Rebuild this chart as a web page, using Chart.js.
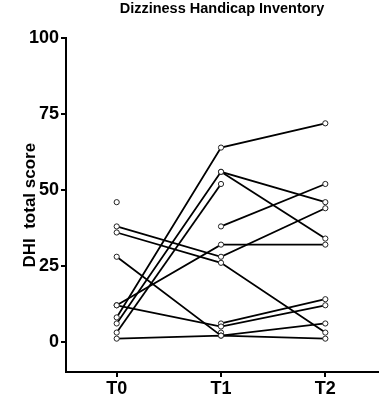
<!DOCTYPE html>
<html>
<head>
<meta charset="utf-8">
<script src="https://cdn.jsdelivr.net/npm/chart.js@4.4.1/dist/chart.umd.min.js"></script>
<style>
  html, body { margin: 0; padding: 0; background: #fff; }
  #wrap { width: 383px; height: 401px; }
</style>
</head>
<body>
<div id="wrap"><canvas id="myChart" width="383" height="401"></canvas></div>
<script>
// one entry per subject, same order in every array (null = no measurement)
const timeLabels = ['T0', 'T1', 'T2'];
const scoreT0 = [8, 6, null, 3, null, 12, 38, 36, 12, null, 28, 1, 46, null];
const scoreT1 = [64, 56, 56, 52, 38, 32, 28, 26, 5, 6, 2, 2, null, 3];
const scoreT2 = [72, 46, 34, null, 52, 32, 44, 3, 12, 14, 6, 1, null, null];
const yTicks = [0, 25, 50, 75, 100];

const fontFam = '"Liberation Sans", Arial, sans-serif';

const datasets = scoreT0.map((v, i) => ({
    label: 'S' + (i + 1),
    data: [
        { x: 0, y: scoreT0[i] },
        { x: 1, y: scoreT1[i] },
        { x: 2, y: scoreT2[i] }
    ],
    borderColor: '#000',
    borderWidth: 1.8,
    pointRadius: 2.6,
    pointBorderWidth: 1,
    pointBorderColor: '#222',
    pointBackgroundColor: '#fff',
    spanGaps: false,
    tension: 0
}));

const ctx = document.getElementById('myChart').getContext('2d');
const myChart = new Chart(ctx, {
    type: 'line',
    data: { datasets: datasets },
    options: {
        responsive: false,
        animation: false,
        layout: { padding: { top: 0, right: 3, left: 0, bottom: 0 } },
        plugins: {
            legend: { display: false },
            tooltip: { enabled: false },
            title: {
                display: true,
                text: 'Dizziness Handicap Inventory',
                fullSize: false,
                color: '#000',
                font: { family: fontFam, size: 14.5, weight: 'bold' },
                padding: { top: 0, bottom: 21 }
            }
        },
        scales: {
            x: {
                type: 'linear',
                min: -0.486,
                max: 2.505,
                afterBuildTicks: s => { s.ticks = [0, 1, 2].map(v => ({ value: v })); },
                afterFit: s => { s.height = 29; },
                ticks: {
                    callback: v => timeLabels[v],
                    color: '#000',
                    padding: 1,
                    font: { family: fontFam, size: 18, weight: 'bold' }
                },
                grid: { drawOnChartArea: false, drawTicks: true, tickLength: 5, color: '#000', lineWidth: 2 },
                border: { display: true, color: '#000', width: 2 }
            },
            y: {
                min: -10,
                max: 100,
                afterBuildTicks: s => { s.ticks = yTicks.map(v => ({ value: v })); },
                afterFit: s => { s.width = 66; },
                ticks: {
                    color: '#000',
                    padding: 2,
                    font: { family: fontFam, size: 18, weight: 'bold' }
                },
                title: {
                    display: true,
                    text: 'DHI  total score',
                    color: '#000',
                    font: { family: fontFam, size: 17, weight: 'bold' },
                    padding: { top: 20, bottom: 0 }
                },
                grid: { drawOnChartArea: false, drawTicks: true, tickLength: 5, color: '#000', lineWidth: 2 },
                border: { display: true, color: '#000', width: 2 }
            }
        }
    }
});
</script>
</body>
</html>
